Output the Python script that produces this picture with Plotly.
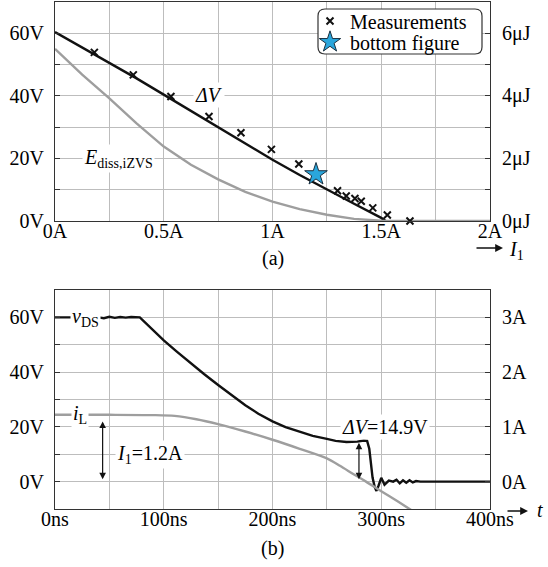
import plotly.graph_objects as go

# ---------------- data: top figure (a) ----------------
I_dv = [0, 0.125, 0.25, 0.375, 0.5, 0.625, 0.75, 0.875, 1.0, 1.125, 1.25, 1.375, 1.5, 1.52]
dV = [60.4, 55.5, 50.6, 45.6, 40.4, 35.2, 29.8, 24.6, 19.6, 14.7, 10.0, 5.5, 1.0, 0.0]

I_e = [0, 0.125, 0.25, 0.375, 0.5, 0.625, 0.75, 0.875, 1.0, 1.125, 1.25, 1.375, 1.5, 1.6, 2.0]
E_uJ = [5.5, 4.68, 3.92, 3.12, 2.38, 1.8, 1.33, 0.93, 0.62, 0.38, 0.2, 0.07, 0.01, 0, 0]

meas_I = [0.181, 0.36, 0.533, 0.708, 0.855, 0.995, 1.121, 1.299, 1.339, 1.379, 1.408, 1.461, 1.528, 1.632]
meas_V = [53.9, 46.7, 39.8, 33.4, 28.2, 22.9, 18.2, 9.7, 8.0, 7.2, 6.3, 4.2, 1.9, 0.0]

star_I = [1.2]
star_V = [14.9]

# grid/tick positions (empty label = grid line only)
xa_vals = [0, 0.25, 0.5, 0.75, 1, 1.25, 1.5, 1.75, 2]
xa_text = ["0A", "", "0.5A", "", "1A", "", "1.5A", "", "2A"]
ya_vals = [0, 10, 20, 30, 40, 50, 60]
ya_text = ["0V", "", "20V", "", "40V", "", "60V"]
ya2_vals = [0, 2, 4, 6]
ya2_text = ["0μJ", "2μJ", "4μJ", "6μJ"]
UJ_TO_V = 10  # right axis of (a): 1 μJ sits at the height of 10 V

# ---------------- data: bottom figure (b) ----------------
t_v = [0, 10, 20, 30, 40, 45, 50, 55, 60, 65, 70, 78, 90, 100, 112, 125, 137, 150, 162, 175,
       187, 200, 212, 225, 237, 250, 258, 268, 278, 284, 287, 289, 290.5, 292, 294, 295.6,
       297.5, 300, 303, 307, 311, 314, 317, 320, 323, 326, 329, 332, 336, 400]
v_ds = [60, 60, 60, 60, 60, 59.7, 60.2, 59.8, 60.1, 59.9, 60.1, 60, 55.4, 51.6, 47.5, 43.2, 39.3, 35.3, 31.6, 27.9,
        24.8, 22.0, 19.9, 18.1, 16.7, 15.6, 14.9, 14.5, 14.6, 15.0, 14.9, 12.0, 6.0, 1.5, -2.0, -3.4,
        -1.5, 1.4, -1.1, 0.4, 0.0, 0.7, -0.6, 0.5, -0.4, 0.5, -0.3, 0.2, 0.0, 0.0]

t_i = [0, 50, 90, 110, 130, 150, 175, 200, 225, 250, 262, 275, 286, 300, 315, 330]
i_L = [1.22, 1.22, 1.215, 1.2, 1.14, 1.05, 0.915, 0.765, 0.6, 0.425, 0.29, 0.13, 0.0, -0.175, -0.36, -0.55]

xb_vals = [0, 50, 100, 150, 200, 250, 300, 350, 400]
xb_text = ["0ns", "", "100ns", "", "200ns", "", "300ns", "", "400ns"]
yb_vals = [-10, 0, 10, 20, 30, 40, 50, 60, 70]
yb_text = ["", "0V", "", "20V", "", "40V", "", "60V", ""]
yb2_vals = [0, 1, 2, 3]
yb2_text = ["0A", "1A", "2A", "3A"]
A_TO_V = 20  # right axis of (b): 1 A sits at the height of 20 V

# ---------------- style ----------------
FONT = "Liberation Serif"
FS = 20
GRID = "#bdbdbd"
FRAME = "#333333"
BLACK = "#111111"
GRAY = "#9e9e9e"
tf = dict(family=FONT, size=FS, color="black")

fig = go.Figure()

fig.add_trace(go.Scatter(x=I_dv, y=dV, mode="lines", line=dict(color=BLACK, width=2.4),
                         xaxis="x", yaxis="y", showlegend=False))
fig.add_trace(go.Scatter(x=I_e, y=[e * UJ_TO_V for e in E_uJ], mode="lines", line=dict(color=GRAY, width=2.4),
                         xaxis="x", yaxis="y", showlegend=False))
fig.add_trace(go.Scatter(x=meas_I, y=meas_V, mode="markers", name="Measurements", legend="legend",
                         marker=dict(symbol="x-thin", size=7, color=BLACK, line=dict(width=2, color=BLACK)),
                         xaxis="x", yaxis="y", cliponaxis=False))
fig.add_trace(go.Scatter(x=star_I, y=star_V, mode="markers", name="bottom figure", legend="legend2",
                         marker=dict(symbol="star", size=17, color="#2aa6dc", line=dict(width=1, color="#1a3040")),
                         xaxis="x", yaxis="y", cliponaxis=False))

fig.add_trace(go.Scatter(x=t_v, y=v_ds, mode="lines", line=dict(color=BLACK, width=2.4),
                         xaxis="x2", yaxis="y3", showlegend=False))
fig.add_trace(go.Scatter(x=t_i, y=[i * A_TO_V for i in i_L], mode="lines",
                         line=dict(color=GRAY, width=2.4, shape="spline", smoothing=0.8),
                         xaxis="x2", yaxis="y3", showlegend=False))

top_dom = [0.568, 1.0]
bot_dom = [0.0, 0.432]

def xax(rng, vals, text, anchor):
    return dict(domain=[0, 1], anchor=anchor, range=rng, tickmode="array", tickvals=vals, ticktext=text,
                showgrid=True, gridcolor=GRID, gridwidth=1, zeroline=False,
                showline=True, linecolor=FRAME, linewidth=1.3, mirror=True, ticks="",
                tickfont=tf, ticklabelstandoff=-8)

def yax(dom, rng, vals, text, anchor):
    return dict(domain=dom, anchor=anchor, range=rng, tickmode="array", tickvals=vals, ticktext=text,
                showgrid=True, gridcolor=GRID, gridwidth=1, zeroline=False,
                ticks="inside", ticklen=5, tickcolor=FRAME, tickwidth=1,
                showline=True, linecolor=FRAME, linewidth=1.3, mirror="allticks",
                tickfont=tf, ticklabelstandoff=6)

leg_common = dict(xanchor="left", yanchor="middle", bgcolor="rgba(0,0,0,0)", borderwidth=0,
                  font=dict(family=FONT, size=20, color="black"), itemwidth=30)

fig.update_layout(
    width=548, height=567,
    margin=dict(l=55, r=58, t=2, b=58, autoexpand=False),
    paper_bgcolor="white", plot_bgcolor="white",
    font=dict(family=FONT, size=FS, color="black"),
    xaxis=xax([0, 2], xa_vals, xa_text, "y"),
    yaxis=yax(top_dom, [0, 70], ya_vals, ya_text, "x"),
    xaxis2=xax([0, 400], xb_vals, xb_text, "y3"),
    yaxis3=yax(bot_dom, [-10, 70], yb_vals, yb_text, "x2"),
    legend=dict(x=(310 - 55) / 435, y=(509 - 21) / 507, **leg_common),
    legend2=dict(x=(310 - 55) / 435, y=(509 - 42) / 507, **leg_common),
    showlegend=True,
)

# rounded legend box
x0, x1 = (318 - 55) / 435, (482 - 55) / 435
y0, y1 = (509 - 54) / 507, (509 - 9) / 507
rx, ry = 7 / 435, 7 / 507
path = (f"M {x0+rx},{y0} L {x1-rx},{y0} Q {x1},{y0} {x1},{y0+ry} L {x1},{y1-ry} Q {x1},{y1} {x1-rx},{y1} "
        f"L {x0+rx},{y1} Q {x0},{y1} {x0},{y1-ry} L {x0},{y0+ry} Q {x0},{y0} {x0+rx},{y0} Z")
fig.add_shape(type="path", path=path, xref="paper", yref="paper", fillcolor="white",
              line=dict(color=FRAME, width=1.2), layer="above")

ann = []
def txt(x, y, s, xref, yref, bg="white", size=FS, xanchor="center", xshift=0):
    ann.append(dict(x=x, y=y, xref=xref, yref=yref, text=s, showarrow=False, bgcolor=bg,
                    xanchor=xanchor, yanchor="middle", xshift=xshift,
                    font=dict(family=FONT, size=size, color="black"), borderpad=1))

# right-hand axis labels, placed through the left axes' scales
for v, s in zip(ya2_vals, ya2_text):
    txt(1.0, v * UJ_TO_V, s, "paper", "y", bg="rgba(0,0,0,0)", xanchor="left", xshift=10)
for v, s in zip(yb2_vals, yb2_text):
    txt(1.0, v * A_TO_V, s, "paper", "y3", bg="rgba(0,0,0,0)", xanchor="left", xshift=10)

txt(0.706, 40.3, "<i>ΔV</i>", "x", "y")
txt(0.29, 20, "<i>E</i><sub>diss,iZVS</sub>", "x", "y")
txt(28, 60, "<i>v</i><sub>DS</sub>", "x2", "y3")
txt(23, 24.4, "<i>i</i><sub>L</sub>", "x2", "y3")
txt(87, 10, "<i>I</i><sub>1</sub>=1.2A", "x2", "y3")
txt(303.5, 20, "<i>ΔV</i>=14.9V", "x2", "y3")

# captions
txt(0.5, (509 - 258) / 507, "(a)", "paper", "paper", bg="rgba(0,0,0,0)")
txt(0.5, (509 - 548) / 507, "(b)", "paper", "paper", bg="rgba(0,0,0,0)")

# axis direction arrows
ann.append(dict(x=(503 - 55) / 435, y=(509 - 248) / 507, xref="paper", yref="paper", ax=-28, ay=0,
                showarrow=True, arrowhead=2, arrowsize=1.2, arrowwidth=1.3, arrowcolor=BLACK, text=""))
txt((516 - 55) / 435, (509 - 251) / 507, "<i>I</i><sub>1</sub>", "paper", "paper", bg="rgba(0,0,0,0)")
ann.append(dict(x=(528 - 55) / 435, y=(509 - 511) / 507, xref="paper", yref="paper", ax=-22, ay=0,
                showarrow=True, arrowhead=2, arrowsize=1.2, arrowwidth=1.3, arrowcolor=BLACK, text=""))
txt((540 - 55) / 435, (509 - 510) / 507, "<i>t</i>", "paper", "paper", bg="rgba(0,0,0,0)")

# double arrows
ann.append(dict(x=43.8, y=22.0, ax=43.8, ay=0.3, xref="x2", yref="y3", axref="x2", ayref="y3",
                showarrow=True, arrowside="end+start", arrowhead=2, startarrowhead=2, arrowsize=1.1,
                startarrowsize=1.1, arrowwidth=1.2, arrowcolor=BLACK, text=""))
ann.append(dict(x=279.5, y=14.2, ax=279.5, ay=0.3, xref="x2", yref="y3", axref="x2", ayref="y3",
                showarrow=True, arrowside="end+start", arrowhead=2, startarrowhead=2, arrowsize=1.1,
                startarrowsize=1.1, arrowwidth=1.2, arrowcolor=BLACK, text=""))

fig.update_layout(annotations=ann)

fig.write_html("out.html", config={"displayModeBar": False},
               post_script="document.body.style.margin='0px';document.body.style.padding='0px';")
